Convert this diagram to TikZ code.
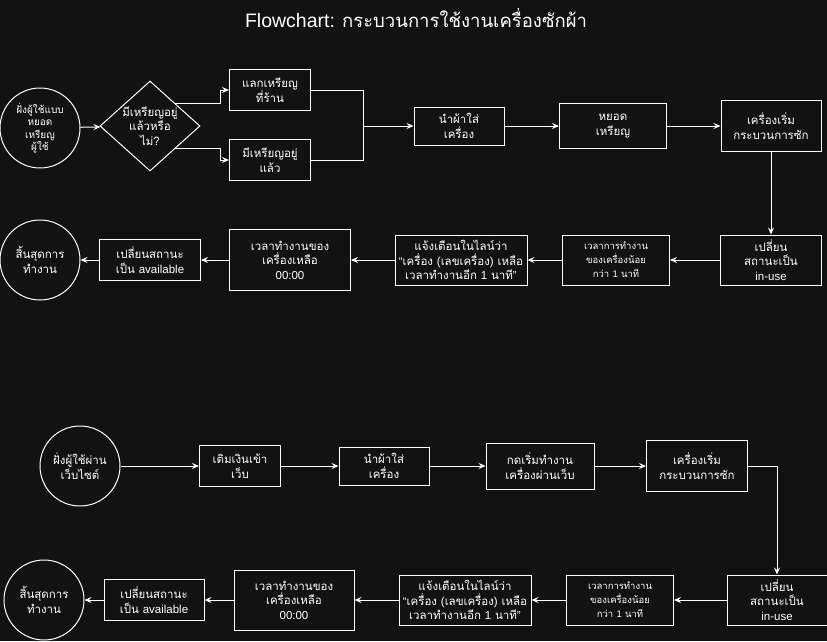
\documentclass[tikz,border=0pt]{standalone}
\usepackage{fontspec}
\setmainfont{Liberation Sans}
\newfontfamily\thaifont[Script=Thai]{Loma}
\usetikzlibrary{arrows.meta,shapes.geometric}
\definecolor{bgc}{HTML}{121212}
\newcommand{\en}[1]{{\normalfont #1}}

\begin{document}
\begin{tikzpicture}
	[x=1pt, y=-1pt, line width=1pt,
	box/.style 2 args={rectangle, draw=white, fill=bgc, text=white, minimum width=#1, minimum height=#2, inner sep=0pt, align=center, font=\thaifont\fontsize{11.5}{14.5}\selectfont},
	smallbox/.style 2 args={box={#1}{#2}, font=\thaifont\fontsize{9.5}{14}\selectfont},
	term/.style={circle, draw=white, fill=bgc, text=white, minimum size=80pt, inner sep=0pt, align=center, font=\thaifont\fontsize{11.5}{14.5}\selectfont},
	decision/.style={diamond, draw=white, fill=bgc, minimum width=100pt, minimum height=90pt, inner sep=0pt},
	arr/.style={draw=white, -{Stealth[length=7pt,width=6pt,inset=2.5pt]}}]
	\fill[bgc] (0,0) rectangle (827,641);
	\useasboundingbox (0,0) rectangle (827,641);
	\node[text=white, font=\fontsize{19.5}{22}\selectfont] (title) at (416,18) {Flowchart: {\thaifont\fontsize{18.5}{22}\selectfont กระบวนการใช้งานเครื่องซักผ้า}};

	% coin machine
	\node[term, font=\thaifont\fontsize{10}{12.5}\selectfont] (start1) at (40,128) {ฝั่งผู้ใช้แบบ\\หยอด\\เหรียญ\\ผู้ใช้};
	\node[decision] (dia) at (150,126) {};
	\node[text=white, align=center, inner sep=0pt, font=\thaifont\fontsize{11.5}{14.5}\selectfont] (diatxt) at (dia) {มีเหรียญอยู่\\แล้วหรือ\\ไม่?};
	\node[box={81pt}{41pt}] (swap) at (270,90) {แลกเหรียญ\\ที่ร้าน};
	\node[box={81pt}{41pt}] (have) at (270,160) {มีเหรียญอยู่\\แล้ว};
	\coordinate (join) at (363,126);
	\node[box={90pt}{38pt}] (load1) at (459,126) {นำผ้าใส่\\เครื่อง};
	\node[box={107pt}{45pt}] (coin1) at (613,126) {หยอด\\เหรียญ};
	\node[box={100pt}{51pt}] (wash1) at (771,126) {เครื่องเริ่ม\\กระบวนการซัก};
	\node[box={101pt}{50pt}] (inuse1) at (771,260) {เปลี่ยน\\สถานะเป็น\\\en{in-use}};
	\node[smallbox={107pt}{50pt}] (less1) at (616,260) {เวลาการทำงาน\\ของเครื่องน้อย\\กว่า \en{1} นาที};
	\node[box={132pt}{50pt}] (notify1) at (461,260) {แจ้งเตือนในไลน์ว่า\\\en{“}เครื่อง \en{(}เลขเครื่อง\en{)} เหลือ\\เวลาทำงานอีก \en{1} นาที\en{”}};
	\node[box={121pt}{61pt}] (zero1) at (290,260) {เวลาทำงานของ\\เครื่องเหลือ\\\en{00:00}};
	\node[box={101pt}{41pt}] (avail1) at (150,260) {เปลี่ยนสถานะ\\เป็น \en{available}};
	\node[term] (end1) at (40,260) {สิ้นสุดการ\\ทำงาน};

	\draw[arr] (start1) -- (dia);
	\draw[arr] (dia.north east) -- ++(45,0) |- (swap.west);
	\draw[arr] (dia.south east) -- ++(45,0) |- (have.west);
	\draw[white] (swap.east) -| (join);
	\draw[white] (have.east) -| (join);
	\draw[arr] (join) -- (load1);
	\draw[arr] (load1) -- (coin1);
	\draw[arr] (coin1) -- (wash1);
	\draw[arr] (wash1) -- (inuse1);
	\draw[arr] (inuse1) -- (less1);
	\draw[arr] (less1) -- (notify1);
	\draw[arr] (notify1) -- (zero1);
	\draw[arr] (zero1) -- (avail1);
	\draw[arr] (avail1) -- (end1);

	% web
	\node[term] (start2) at (80,466) {ฝั่งผู้ใช้ผ่าน\\เว็บไซต์};
	\node[box={81pt}{41pt}] (topup) at (240,466) {เติมเงินเข้า\\เว็บ};
	\node[box={90pt}{38pt}] (load2) at (384,466) {นำผ้าใส่\\เครื่อง};
	\node[box={108pt}{46pt}] (press) at (540,466) {กดเริ่มทำงาน\\เครื่องผ่านเว็บ};
	\node[box={101pt}{51pt}] (wash2) at (697,466) {เครื่องเริ่ม\\กระบวนการซัก};
	\node[box={100pt}{50pt}] (inuse2) at (777,600) {เปลี่ยน\\สถานะเป็น\\\en{in-use}};
	\node[smallbox={107pt}{50pt}] (less2) at (620,600) {เวลาการทำงาน\\ของเครื่องน้อย\\กว่า \en{1} นาที};
	\node[box={132pt}{50pt}] (notify2) at (465,600) {แจ้งเตือนในไลน์ว่า\\\en{“}เครื่อง \en{(}เลขเครื่อง\en{)} เหลือ\\เวลาทำงานอีก \en{1} นาที\en{”}};
	\node[box={120pt}{60pt}] (zero2) at (294,600) {เวลาทำงานของ\\เครื่องเหลือ\\\en{00:00}};
	\node[box={100pt}{41pt}] (avail2) at (154,600) {เปลี่ยนสถานะ\\เป็น \en{available}};
	\node[term] (end2) at (44,600) {สิ้นสุดการ\\ทำงาน};

	\draw[arr] (start2) -- (topup);
	\draw[arr] (topup) -- (load2);
	\draw[arr] (load2) -- (press);
	\draw[arr] (press) -- (wash2);
	\draw[arr] (wash2.east) -| (inuse2.north);
	\draw[arr] (inuse2) -- (less2);
	\draw[arr] (less2) -- (notify2);
	\draw[arr] (notify2) -- (zero2);
	\draw[arr] (zero2) -- (avail2);
	\draw[arr] (avail2) -- (end2);
\end{tikzpicture}
\end{document}
